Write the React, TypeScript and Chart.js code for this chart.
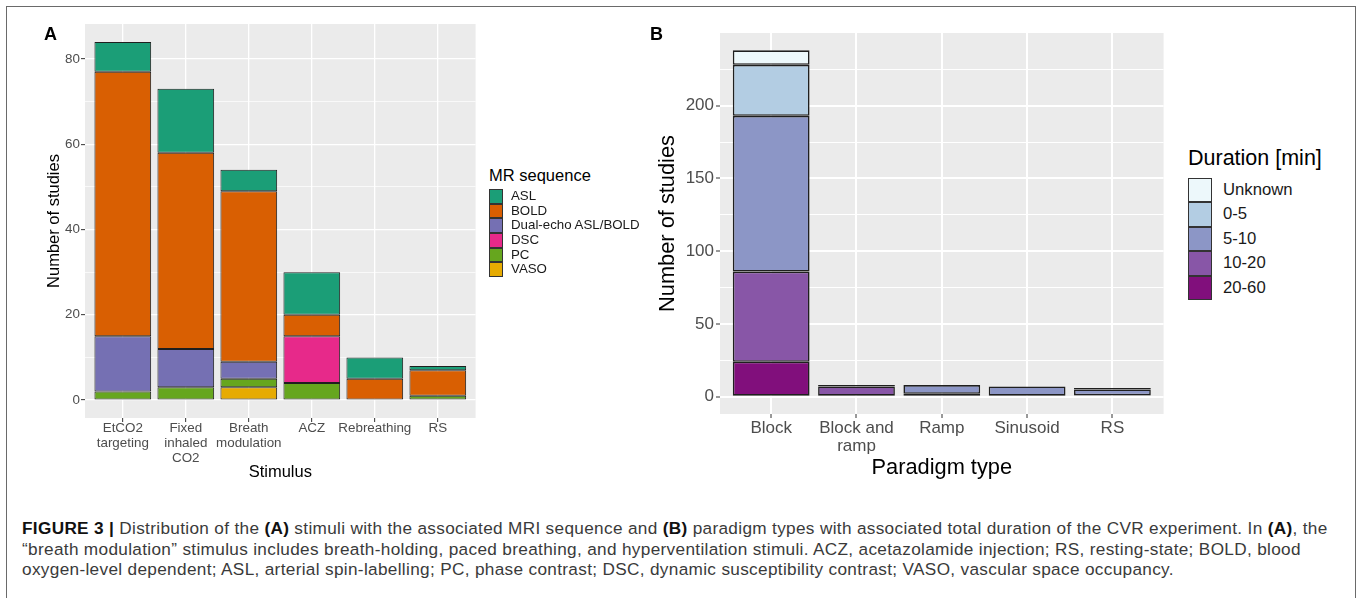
import React, { useEffect, useRef } from "react";
import { Chart, registerables } from "chart.js";

Chart.register(...registerables);

// ---------- Panel A data ----------
const stimuli: (string | string[])[] = [
  ["EtCO2", "targeting"],
  ["Fixed", "inhaled", "CO2"],
  ["Breath", "modulation"],
  "ACZ",
  "Rebreathing",
  "RS",
];
// stacking order: bottom -> top
const seqNames = ["VASO", "PC", "DSC", "Dual-echo ASL/BOLD", "BOLD", "ASL"];
const vaso = [0, 0, 3, 0, 0, 0];
const pc = [2, 3, 2, 4, 0, 1];
const dsc = [0, 0, 0, 11, 0, 0];
const dualEcho = [13, 9, 4, 0, 0, 0];
const boldSeq = [62, 46, 40, 5, 5, 6];
const asl = [7, 15, 5, 10, 5, 1];
const seqColors = ["#E6AB02", "#66A61E", "#E7298A", "#7570B3", "#D95F02", "#1B9E77"];
const yTicksA = [0, 20, 40, 60, 80];

// ---------- Panel B data ----------
const paradigms: (string | string[])[] = ["Block", ["Block and", "ramp"], "Ramp", "Sinusoid", "RS"];
// stacking order: bottom -> top
const durNames = ["20-60", "10-20", "5-10", "0-5", "Unknown"];
const dur20to60 = [24, 0, 0, 0, 0];
const dur10to20 = [62, 7, 2, 0, 1];
const dur5to10 = [107, 1, 6, 7, 4];
const dur0to5 = [35, 0, 0, 0, 1];
const durUnknown = [10, 0, 0, 0, 0];
const durColors = ["#810F7C", "#8856A7", "#8C96C6", "#B3CDE3", "#EDF8FB"];
const yTicksB = [0, 50, 100, 150, 200];

const FONT = "'Liberation Sans', Arial, Helvetica, sans-serif";

const panelBg = {
  id: "panelBg",
  beforeDraw(chart: any) {
    const { ctx, chartArea: a } = chart;
    ctx.save();
    ctx.fillStyle = "#EBEBEB";
    ctx.fillRect(a.left, a.top, a.right - a.left, a.bottom - a.top);
    ctx.restore();
  },
};

type PanelProps = {
  left: number;
  top: number;
  width: number;
  height: number;
  cats: (string | string[])[];
  names: string[];
  series: number[][];
  colors: string[];
  majorTicks: number[];
  yMin: number;
  yMax: number;
  padTop: number;
  padRight: number;
  yAxisW: number;
  xAxisH: number;
  tickFont: number;
  tickLH: number;
  xTickPad: number;
  yTickPad: number;
  titleFont: number;
  yTitlePad: number;
  xTitlePad: number;
  majorW: number;
  minorW: number;
  barBorder: number;
  xTitle: string;
  yTitle: string;
};

function BarPanel(p: PanelProps) {
  const ref = useRef<HTMLCanvasElement | null>(null);
  useEffect(() => {
    if (!ref.current) return;
    const minor: number[] = [];
    for (let i = 0; i < p.majorTicks.length; i++) {
      minor.push(p.majorTicks[i]);
      if (i < p.majorTicks.length - 1) minor.push((p.majorTicks[i] + p.majorTicks[i + 1]) / 2);
    }
    const last = p.majorTicks[p.majorTicks.length - 1];
    const step = p.majorTicks[1] - p.majorTicks[0];
    if (last + step / 2 < p.yMax) minor.push(last + step / 2);
    const isMajor = (v: number) => p.majorTicks.includes(v);

    const chart = new Chart(ref.current, {
      type: "bar",
      data: {
        datasets: p.series.map((vals, si) => ({
          label: p.names[si],
          data: vals.map((v, i) => ({ x: i, y: v })).filter((d) => d.y > 0),
          backgroundColor: p.colors[si],
          borderColor: "#1F1F1F",
          borderWidth: p.barBorder,
          borderSkipped: false,
          barPercentage: 0.9,
          categoryPercentage: 1,
        })),
      },
      options: {
        animation: false,
        responsive: false,
        maintainAspectRatio: false,
        layout: { padding: { top: p.padTop, right: p.padRight, left: 0, bottom: 0 } },
        plugins: { legend: { display: false }, tooltip: { enabled: false } },
        scales: {
          x: {
            type: "linear",
            stacked: true,
            offset: false,
            min: -0.6,
            max: p.cats.length - 0.4,
            afterBuildTicks: (s: any) => {
              s.ticks = p.cats.map((_, i) => ({ value: i }));
            },
            afterFit: (s: any) => {
              s.height = p.xAxisH;
            },
            ticks: {
              autoSkip: false,
              maxRotation: 0,
              minRotation: 0,
              padding: p.xTickPad,
              color: "#4D4D4D",
              font: { family: FONT, size: p.tickFont, lineHeight: p.tickLH },
              callback: (v: any) => p.cats[Math.round(Number(v))],
            },
            grid: {
              offset: false,
              color: "#FFFFFF",
              lineWidth: p.majorW,
              tickColor: "#333333",
              tickLength: 4,
              tickWidth: 1,
            },
            border: { display: false },
            title: {
              display: true,
              text: p.xTitle,
              color: "#000000",
              font: { family: FONT, size: p.titleFont, lineHeight: 1.2 },
              padding: { top: 0, bottom: p.xTitlePad },
            },
          },
          y: {
            type: "linear",
            stacked: true,
            min: p.yMin,
            max: p.yMax,
            afterBuildTicks: (s: any) => {
              s.ticks = minor.map((v) => ({ value: v }));
            },
            afterFit: (s: any) => {
              s.width = p.yAxisW;
            },
            ticks: {
              padding: p.yTickPad,
              color: "#4D4D4D",
              font: { family: FONT, size: p.tickFont },
              callback: (v: any) => (isMajor(Number(v)) ? String(v) : ""),
            },
            grid: {
              color: "#FFFFFF",
              lineWidth: (c: any) => (isMajor(c.tick.value) ? p.majorW : p.minorW),
              tickColor: (c: any) => (isMajor(c.tick.value) ? "#333333" : "rgba(0,0,0,0)"),
              tickLength: 4,
              tickWidth: 1,
            },
            border: { display: false },
            title: {
              display: true,
              text: p.yTitle,
              color: "#000000",
              font: { family: FONT, size: p.titleFont, lineHeight: 1.2 },
              padding: { top: p.yTitlePad, bottom: 0 },
            },
          },
        },
      } as any,
      plugins: [panelBg],
    });
    return () => chart.destroy();
  }, []);
  return (
    <canvas
      ref={ref}
      width={p.width}
      height={p.height}
      style={{ position: "absolute", left: p.left, top: p.top, width: p.width, height: p.height }}
    />
  );
}

function Legend(props: {
  left: number;
  titleTop: number;
  title: string;
  titleSize: number;
  names: string[];
  colors: string[];
  keyTop: number;
  keyW: number;
  rowH: number;
  labelLeft: number;
  labelSize: number;
}) {
  const order = props.names.map((_, i) => i).reverse();
  return (
    <>
      <div
        style={{
          position: "absolute",
          left: props.left,
          top: props.titleTop,
          fontFamily: FONT,
          fontSize: props.titleSize,
          lineHeight: "1",
          color: "#000",
          whiteSpace: "nowrap",
        }}
      >
        {props.title}
      </div>
      {order.map((si, r) => (
        <React.Fragment key={si}>
          <div
            style={{
              position: "absolute",
              left: props.left,
              top: props.keyTop + r * props.rowH,
              width: props.keyW,
              height: props.rowH,
              boxSizing: "border-box",
              border: "1px solid #333",
              background: props.colors[si],
            }}
          />
          <div
            style={{
              position: "absolute",
              left: props.labelLeft,
              top: props.keyTop + r * props.rowH,
              height: props.rowH,
              lineHeight: props.rowH + "px",
              fontFamily: FONT,
              fontSize: props.labelSize,
              color: "#1A1A1A",
              whiteSpace: "nowrap",
            }}
          >
            {props.names[si]}
          </div>
        </React.Fragment>
      ))}
    </>
  );
}

const capStyle: React.CSSProperties = {
  position: "absolute",
  left: 22,
  fontFamily: FONT,
  fontSize: 17.2,
  letterSpacing: "0.33px",
  lineHeight: "20px",
  color: "#3A3A3A",
  whiteSpace: "nowrap",
};
const B = (t: string) => <b style={{ color: "#111" }}>{t}</b>;

export default function App() {
  return (
    <div
      style={{
        position: "absolute",
        left: 0,
        top: 0,
        width: 1360,
        height: 598,
        overflow: "hidden",
        background: "#FFFFFF",
      }}
    >
      <div
        style={{
          position: "absolute",
          left: 6,
          top: 6,
          width: 1350,
          height: 620,
          boxSizing: "border-box",
          border: "1.5px solid #6A6A6A",
        }}
      />
      <BarPanel
        left={0}
        top={0}
        width={480}
        height={490}
        cats={stimuli}
        names={seqNames}
        series={[vaso, pc, dsc, dualEcho, boldSeq, asl]}
        colors={seqColors}
        majorTicks={yTicksA}
        yMin={-4.2}
        yMax={88.2}
        padTop={24}
        padRight={4.4}
        yAxisW={85}
        xAxisH={72}
        tickFont={13.4}
        tickLH={1.1}
        xTickPad={-1}
        yTickPad={1}
        titleFont={16.5}
        yTitlePad={45}
        xTitlePad={7.4}
        majorW={1.3}
        minorW={0.7}
        barBorder={1}
        xTitle="Stimulus"
        yTitle="Number of studies"
      />
      <BarPanel
        left={610}
        top={0}
        width={560}
        height={490}
        cats={paradigms}
        names={durNames}
        series={[dur20to60, dur10to20, dur5to10, dur0to5, durUnknown]}
        colors={durColors}
        majorTicks={yTicksB}
        yMin={-11.9}
        yMax={249.9}
        padTop={33}
        padRight={6.4}
        yAxisW={110}
        xAxisH={76}
        tickFont={17}
        tickLH={1.08}
        xTickPad={1}
        yTickPad={2}
        titleFont={21.8}
        yTitlePad={45}
        xTitlePad={8.8}
        majorW={2}
        minorW={1}
        barBorder={1.6}
        xTitle="Paradigm type"
        yTitle="Number of studies"
      />
      <div style={{ position: "absolute", left: 44, top: 25, fontFamily: FONT, fontWeight: "bold", fontSize: 18, lineHeight: "18px" }}>
        A
      </div>
      <div style={{ position: "absolute", left: 650, top: 25, fontFamily: FONT, fontWeight: "bold", fontSize: 18, lineHeight: "18px" }}>
        B
      </div>
      <Legend
        left={489}
        titleTop={167}
        title="MR sequence"
        titleSize={16.5}
        names={seqNames}
        colors={seqColors}
        keyTop={189}
        keyW={14}
        rowH={14.66}
        labelLeft={511}
        labelSize={13.3}
      />
      <Legend
        left={1188}
        titleTop={148}
        title="Duration [min]"
        titleSize={21.5}
        names={durNames}
        colors={durColors}
        keyTop={178}
        keyW={24}
        rowH={24.4}
        labelLeft={1223}
        labelSize={16.7}
      />
      <div style={{ ...capStyle, top: 518 }}>
        {B("FIGURE 3 |")} Distribution of the {B("(A)")} stimuli with the associated MRI sequence and {B("(B)")} paradigm
        types with associated total duration of the CVR experiment. In {B("(A)")}, the
      </div>
      <div style={{ ...capStyle, top: 538.5 }}>
        “breath modulation” stimulus includes breath-holding, paced breathing, and hyperventilation stimuli. ACZ,
        acetazolamide injection; RS, resting-state; BOLD, blood
      </div>
      <div style={{ ...capStyle, top: 558.5 }}>
        oxygen-level dependent; ASL, arterial spin-labelling; PC, phase contrast; DSC, dynamic susceptibility contrast;
        VASO, vascular space occupancy.
      </div>
    </div>
  );
}
